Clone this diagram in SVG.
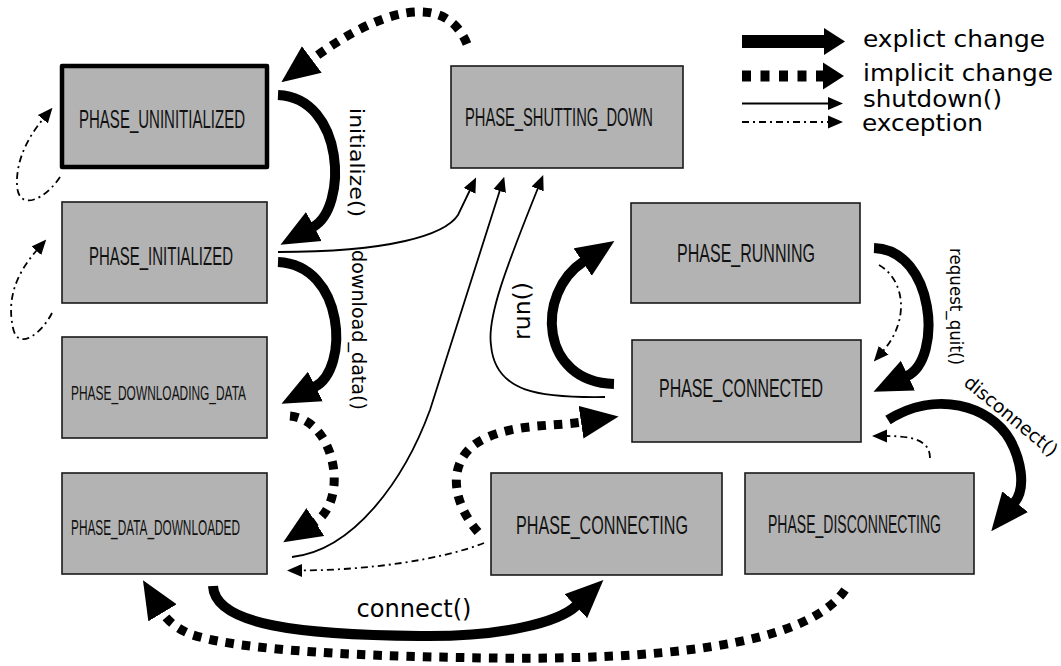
<svg xmlns="http://www.w3.org/2000/svg" width="1061" height="666" viewBox="0 0 1061 666">
  <defs>
    <style>
      .box{fill:#b3b3b3;stroke:#1a1a1a;stroke-width:1.6}
      .box.initial{stroke:#000;stroke-width:4.5;stroke-linejoin:round}
      .name{font-family:"Liberation Sans",Arial,sans-serif;fill:#111}
      .lbl{font-family:"DejaVu Sans","Liberation Sans",sans-serif;fill:#000}
      .explicit{fill:none;stroke:#000;stroke-width:10;marker-end:url(#headBig)}
      .implicit{fill:none;stroke:#000;stroke-width:9;stroke-dasharray:8.5 8;marker-end:url(#headBig)}
      .shutdown{fill:none;stroke:#000;stroke-width:1.8;marker-end:url(#headThin)}
      .exception{fill:none;stroke:#000;stroke-width:1.8;stroke-dasharray:7 4 2 4;marker-end:url(#headThin)}
    </style>
    <!-- large head for state changes -->
    <marker id="headBig" viewBox="0 -17 38 34" refX="1" refY="0" markerWidth="38" markerHeight="34" markerUnits="userSpaceOnUse" orient="auto">
      <path d="M0,-16.5 L38,0 L0,16.5 z" fill="#000"/>
    </marker>
    <!-- head used in the key for thick arrows -->
    <marker id="headKey" viewBox="0 -14 21 28" refX="1" refY="0" markerWidth="21" markerHeight="28" markerUnits="userSpaceOnUse" orient="auto">
      <path d="M0,-13.5 L21,0 L0,13.5 z" fill="#000"/>
    </marker>
    <!-- small head for shutdown and exception paths -->
    <marker id="headThin" viewBox="0 -7 15 14" refX="1" refY="0" markerWidth="15" markerHeight="14" markerUnits="userSpaceOnUse" orient="auto">
      <path d="M0,-6.5 L15,0 L0,6.5 z" fill="#000"/>
    </marker>
  </defs>

  <rect width="1061" height="666" fill="#fff"/>

  <!-- states -->
  <g id="phase-uninitialized">
    <rect class="box initial" x="62" y="66" width="205" height="101"/>
    <text class="name" x="79" y="128" font-size="25" textLength="166" lengthAdjust="spacingAndGlyphs">PHASE_UNINITIALIZED</text>
  </g>
  <g id="phase-initialized">
    <rect class="box" x="62" y="202" width="205" height="101"/>
    <text class="name" x="89" y="265" font-size="25" textLength="144" lengthAdjust="spacingAndGlyphs">PHASE_INITIALIZED</text>
  </g>
  <g id="phase-downloading-data">
    <rect class="box" x="62" y="337" width="205" height="101"/>
    <text class="name" x="71" y="400" font-size="21" textLength="175" lengthAdjust="spacingAndGlyphs">PHASE_DOWNLOADING_DATA</text>
  </g>
  <g id="phase-data-downloaded">
    <rect class="box" x="62" y="473" width="205" height="101"/>
    <text class="name" x="71" y="535" font-size="22" textLength="169" lengthAdjust="spacingAndGlyphs">PHASE_DATA_DOWNLOADED</text>
  </g>
  <g id="phase-shutting-down">
    <rect class="box" x="451" y="66" width="232" height="102"/>
    <text class="name" x="465" y="126" font-size="25" textLength="188" lengthAdjust="spacingAndGlyphs">PHASE_SHUTTING_DOWN</text>
  </g>
  <g id="phase-running">
    <rect class="box" x="631" y="203" width="229" height="100"/>
    <text class="name" x="677" y="262" font-size="26" textLength="138" lengthAdjust="spacingAndGlyphs">PHASE_RUNNING</text>
  </g>
  <g id="phase-connected">
    <rect class="box" x="632" y="340" width="229" height="102"/>
    <text class="name" x="659" y="397" font-size="26" textLength="164" lengthAdjust="spacingAndGlyphs">PHASE_CONNECTED</text>
  </g>
  <g id="phase-connecting">
    <rect class="box" x="491" y="473" width="231" height="102"/>
    <text class="name" x="516" y="534" font-size="25" textLength="172" lengthAdjust="spacingAndGlyphs">PHASE_CONNECTING</text>
  </g>
  <g id="phase-disconnecting">
    <rect class="box" x="745" y="473" width="229" height="101"/>
    <text class="name" x="768" y="533" font-size="25" textLength="173" lengthAdjust="spacingAndGlyphs">PHASE_DISCONNECTING</text>
  </g>

  <!-- transitions -->
  <g id="connectors">
    <!-- explicit changes -->
    <path class="explicit" d="M278,95 C345,98 348,208 313,227"/>
    <path class="explicit" d="M278,262 C345,265 350,369 314.5,387"/>
    <path class="explicit" d="M614,384 C540,382 535,293.5 583.5,261.5"/>
    <path class="explicit" d="M874,248 C935,250 943,359 907,376"/>
    <path class="explicit" d="M888,420 C935,390 990,405 1010,440 C1020,458 1027,487 1014.5,502.5"/>
    <path class="explicit" d="M213,586 C215,625 300,635 420,636 C500,637 558,623 576.5,605.5"/>

    <!-- implicit changes -->
    <path class="implicit" d="M467,44 C445,-10 378,10 311,60"/>
    <path class="implicit" d="M290,416 C335,420 350,500 314.5,522.5"/>
    <path class="implicit" d="M478,532 C450,500 445,455 488,437 C518,424 552,426.5 582,422"/>
    <path class="implicit" d="M845,590 C805,648 650,660 490,658 C330,656 230,648 190,634 C180,630 168,622 162,612"/>

    <!-- shutdown() -->
    <path class="shutdown" d="M278,252 C390,252 445,235 458,215 L470,190"/>
    <path class="shutdown" d="M292,557 C355,550 405,478 430,410 C453,337 477,263 500,190"/>
    <path class="shutdown" d="M605,397 C540,398 495,393 491,345 C487,318 505,270 538,188"/>

    <!-- exceptions -->
    <path class="exception" d="M879,265 C905,280 910,320 883,351"/>
    <path class="exception" d="M930,458 C930,440 912,436 886,436"/>
    <path class="exception" d="M484,543 C440,560 370,570 301,570.5"/>
    <path class="exception" d="M60,177 C45,200 18,212 17,185 C16,160 28,137 43.5,118.5"/>
    <path class="exception" d="M52,313 C42,333 18,352 13,328 C7,300 15,275 37,250"/>

    <!-- transition labels -->
    <text class="lbl" transform="translate(350,162.5) rotate(90)" text-anchor="middle" font-size="20" textLength="109" lengthAdjust="spacingAndGlyphs">initialize()</text>
    <text class="lbl" transform="translate(352,330) rotate(90)" text-anchor="middle" font-size="19.5" textLength="160" lengthAdjust="spacingAndGlyphs">download_data()</text>
    <text class="lbl" transform="translate(530,311) rotate(-90)" text-anchor="middle" font-size="23" textLength="58" lengthAdjust="spacingAndGlyphs">run()</text>
    <text class="lbl" transform="translate(950,306.5) rotate(90)" text-anchor="middle" font-size="17" textLength="117" lengthAdjust="spacingAndGlyphs">request_quit()</text>
    <text class="lbl" transform="translate(1007,421) rotate(39.5)" text-anchor="middle" font-size="18.5" textLength="115" lengthAdjust="spacingAndGlyphs">disconnect()</text>
    <text class="lbl" x="414" y="617" text-anchor="middle" font-size="24" textLength="115" lengthAdjust="spacingAndGlyphs">connect()</text>
  </g>

  <!-- key -->
  <g id="legend">
    <path d="M742,41.5 H825" fill="none" stroke="#000" stroke-width="13" marker-end="url(#headKey)"/>
    <path d="M742,76 H824" fill="none" stroke="#000" stroke-width="11" stroke-dasharray="9 9.5" marker-end="url(#headKey)"/>
    <path d="M742,103.5 H829" fill="none" stroke="#000" stroke-width="2.2" marker-end="url(#headThin)"/>
    <path d="M742,122 H829" fill="none" stroke="#000" stroke-width="2" stroke-dasharray="7 4 2 4" marker-end="url(#headThin)"/>
    <text class="lbl" x="863" y="47" font-size="23" textLength="182" lengthAdjust="spacingAndGlyphs">explict change</text>
    <text class="lbl" x="863" y="81" font-size="23" textLength="190" lengthAdjust="spacingAndGlyphs">implicit change</text>
    <text class="lbl" x="863" y="107" font-size="23" textLength="139" lengthAdjust="spacingAndGlyphs">shutdown()</text>
    <text class="lbl" x="862" y="131" font-size="23" textLength="121" lengthAdjust="spacingAndGlyphs">exception</text>
  </g>
</svg>
